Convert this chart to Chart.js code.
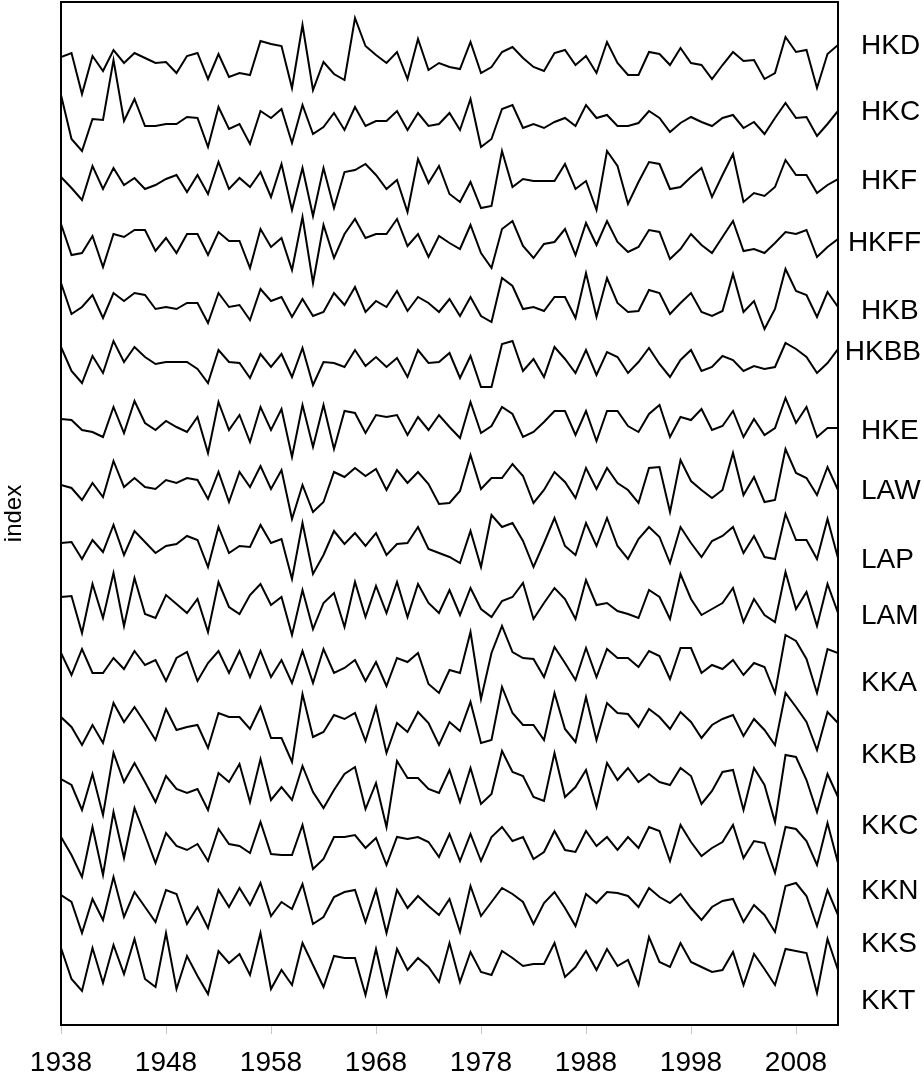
<!DOCTYPE html>
<html>
<head>
<meta charset="utf-8">
<title>index</title>
<script src="https://cdn.jsdelivr.net/npm/chart.js@4/dist/chart.umd.min.js"></script>
<style>
  html, body { margin: 0; padding: 0; background: #fff; }
  #wrap { width: 922px; height: 1079px; }
</style>
</head>
<body>
<div id="wrap"><canvas id="chart" width="922" height="1079"></canvas></div>
<script>
// ---- data (index values, one per year 1938..2012) ----
const startYear = 1938;
const endYear = 2012;
const tickYears = [1938, 1948, 1958, 1968, 1978, 1988, 1998, 2008];
const seriesNames = ['HKD', 'HKC', 'HKF', 'HKFF', 'HKB', 'HKBB', 'HKE', 'LAW',
                     'LAP', 'LAM', 'KKA', 'KKB', 'KKC', 'KKN', 'KKS', 'KKT'];

const HKD = [1.06,1.10,0.69,1.07,0.92,1.13,1.00,1.10,1.05,1.00,1.01,0.90,1.07,1.10,0.84,1.09,0.86,0.90,0.88,1.22,
  1.19,1.17,0.75,1.38,0.73,1.01,0.89,0.83,1.45,1.17,1.08,1.00,1.11,0.84,1.24,0.93,1.00,
  0.96,0.94,1.21,0.90,0.96,1.11,1.16,1.05,0.96,0.92,1.10,1.13,0.98,1.07,0.90,1.21,1.00,0.88,0.88,1.11,
  1.09,0.98,1.15,1.00,0.98,0.84,0.98,1.11,1.02,1.03,0.84,0.90,1.26,1.11,1.13,0.75,1.09,1.18];
const HKC = [1.28,0.84,0.72,1.04,1.03,1.63,1.02,1.24,0.97,0.97,0.99,0.99,1.06,1.05,0.76,1.16,0.94,0.99,0.79,1.12,
  1.05,1.14,0.80,1.18,0.89,0.96,1.10,0.93,1.16,0.97,1.02,1.02,1.12,0.93,1.10,0.97,0.99,
  1.10,0.93,1.24,0.76,0.84,1.14,1.18,0.95,0.99,0.95,1.01,1.05,0.97,1.18,1.05,1.08,0.97,0.97,1.00,1.12,
  1.05,0.91,1.00,1.06,1.01,0.97,1.05,1.08,0.95,1.01,0.89,1.05,1.20,1.05,1.06,0.87,0.99,1.12];
const HKF = [1.06,0.95,0.83,1.17,0.94,1.15,0.98,1.05,0.94,0.98,1.04,1.08,0.91,1.08,0.89,1.21,0.94,1.05,0.96,1.11,
  0.86,1.19,0.73,1.15,0.67,1.15,0.75,1.11,1.13,1.19,1.08,0.94,1.03,0.71,1.24,1.00,1.17,
  0.89,0.81,1.01,0.75,0.77,1.32,0.96,1.04,1.02,1.02,1.02,1.19,0.94,1.02,0.73,1.32,1.17,0.79,1.01,1.21,
  1.19,0.94,0.96,1.06,1.15,0.86,1.08,1.29,0.81,0.90,0.87,0.96,1.23,1.08,1.08,0.90,0.98,1.04];
const HKFF = [1.19,0.88,0.90,1.07,0.76,1.09,1.06,1.13,1.13,0.92,1.05,0.90,1.09,1.09,0.88,1.11,1.02,1.02,0.75,1.14,
  0.96,1.05,0.73,1.26,0.60,1.18,0.85,1.09,1.24,1.05,1.09,1.09,1.24,0.97,1.09,0.86,1.07,
  1.00,0.94,1.18,0.90,0.75,1.14,1.22,0.97,0.85,0.99,1.01,1.14,0.88,1.20,0.98,1.22,1.01,0.91,0.96,1.13,
  1.11,0.84,0.94,1.09,0.98,0.90,1.06,1.22,0.92,0.94,0.90,1.00,1.11,1.09,1.13,0.86,0.96,1.04];
const HKB = [1.20,0.89,0.96,1.08,0.85,1.10,1.02,1.10,1.08,0.94,0.96,0.94,1.00,1.00,0.80,1.10,0.96,0.98,0.83,1.14,
  1.02,1.06,0.86,1.04,0.87,0.91,1.10,0.98,1.16,0.91,1.02,0.96,1.12,0.92,1.06,1.00,0.91,
  1.04,0.87,1.06,0.87,0.81,1.25,1.17,0.94,0.96,0.92,1.06,1.06,0.85,1.30,0.86,1.25,1.00,0.91,0.92,1.13,
  1.10,0.89,1.00,1.10,0.91,0.87,0.92,1.29,0.91,1.02,0.74,0.94,1.34,1.12,1.08,0.86,1.11,0.96];
const HKBB = [1.16,0.92,0.80,1.07,0.90,1.22,1.01,1.16,1.06,0.99,1.01,1.01,1.01,0.94,0.80,1.13,1.01,1.00,0.85,1.09,
  0.96,1.09,0.86,1.15,0.78,1.01,1.00,0.96,1.13,0.97,1.06,0.96,1.05,0.86,1.13,1.00,1.01,
  1.10,0.85,1.07,0.76,0.76,1.19,1.22,0.92,1.04,0.86,1.16,1.04,0.90,1.13,0.88,1.11,1.06,0.90,1.01,1.15,
  0.99,0.86,1.03,1.13,0.92,0.96,1.07,1.03,0.92,0.97,0.94,0.96,1.20,1.14,1.06,0.90,1.00,1.14];
const HKE = [1.04,1.03,0.93,0.91,0.86,1.16,0.90,1.22,1.00,0.93,1.02,0.96,0.91,1.06,0.70,1.21,0.93,1.08,0.81,1.16,
  0.93,1.14,0.66,1.18,0.76,1.18,0.74,1.12,1.10,0.90,1.08,1.06,1.08,0.88,1.06,0.93,1.08,
  0.96,0.85,1.21,0.90,0.97,1.16,1.09,0.86,0.91,1.01,1.12,1.12,0.88,1.12,0.82,1.12,1.12,0.97,0.91,1.09,
  1.18,0.86,1.06,1.03,1.14,0.93,0.97,1.12,0.86,1.04,0.88,0.95,1.25,1.00,1.16,0.86,0.95,0.95];
const LAW = [0.98,0.95,0.83,1.00,0.86,1.22,0.96,1.05,0.96,0.94,1.03,1.00,1.05,1.03,0.84,1.11,0.81,1.11,0.96,1.17,
  0.94,1.13,0.64,0.98,0.71,0.81,1.11,1.06,1.15,1.07,1.14,0.93,1.13,1.00,1.11,0.99,0.79,
  0.80,0.92,1.28,0.94,1.05,1.05,1.19,1.07,0.80,0.93,1.11,1.01,0.85,1.15,0.94,1.15,1.00,0.93,0.80,1.15,
  1.16,0.71,1.23,1.02,0.93,0.85,0.93,1.30,0.88,1.06,0.81,0.83,1.34,1.10,1.05,0.88,1.16,0.93];
const LAP = [1.00,1.01,0.84,1.03,0.91,1.18,0.88,1.12,1.01,0.90,0.97,0.99,1.07,1.03,0.76,1.16,0.90,0.97,0.96,1.18,
  1.00,1.04,0.64,1.20,0.69,0.88,1.12,0.99,1.10,0.97,1.10,0.88,0.99,1.00,1.16,0.94,0.90,
  0.86,0.80,1.12,0.76,1.28,1.16,1.20,1.02,0.76,1.00,1.25,0.97,0.88,1.20,0.97,1.25,0.97,0.84,1.04,1.16,
  1.06,0.80,1.16,1.00,0.86,1.02,1.07,1.16,0.90,1.07,0.86,0.84,1.29,1.03,1.03,0.84,1.24,0.85];
const LAM = [1.06,1.07,0.70,1.19,0.85,1.30,0.77,1.25,0.89,0.85,1.08,0.99,0.90,1.04,0.71,1.21,0.96,0.89,1.08,1.19,
  0.98,1.06,0.68,1.13,0.74,1.00,1.10,0.76,1.21,0.86,1.17,0.90,1.21,0.86,1.19,1.00,0.90,
  1.13,0.88,1.15,0.94,0.86,1.02,1.06,1.20,0.84,1.00,1.15,1.04,0.84,1.23,0.98,1.00,0.92,0.89,0.85,1.13,
  1.06,0.84,1.29,1.04,0.88,0.94,1.00,1.15,0.81,1.04,0.88,0.81,1.31,0.94,1.11,0.77,1.19,0.90];
const KKA = [1.10,0.88,1.14,0.90,0.90,1.05,0.94,1.12,0.98,1.03,0.82,1.05,1.11,0.82,1.00,1.12,0.90,1.12,0.86,1.12,
  0.86,1.03,0.80,1.12,0.80,1.14,0.90,0.95,1.03,0.82,1.01,0.77,1.05,1.01,1.10,0.79,0.70,
  0.93,0.90,1.31,0.64,1.10,1.37,1.11,1.05,1.04,0.86,1.16,1.00,0.83,1.15,0.86,1.14,1.05,1.05,0.96,1.12,
  1.07,0.84,1.15,1.15,0.90,0.98,0.94,1.03,0.88,1.00,0.96,0.70,1.28,1.22,1.04,0.70,1.14,1.10];
const KKB = [1.06,0.96,0.78,0.98,0.80,1.20,1.01,1.16,1.00,0.83,1.14,0.93,0.96,0.98,0.75,1.10,1.06,1.06,0.94,1.16,
  0.85,0.85,0.61,1.29,0.86,0.91,1.08,1.04,1.10,0.82,1.16,0.70,1.00,0.91,1.11,1.00,0.78,
  1.01,0.92,1.21,0.80,0.83,1.36,1.10,0.98,0.98,0.83,1.30,0.94,0.81,1.26,0.83,1.20,1.10,1.09,0.96,1.14,
  1.06,0.94,1.11,1.01,0.85,0.98,1.04,1.08,0.87,1.04,0.93,0.78,1.30,1.16,1.01,0.73,1.11,1.00];
const KKC = [1.04,0.98,0.73,1.09,0.68,1.30,1.01,1.20,1.01,0.81,1.07,0.94,0.90,0.94,0.73,1.10,1.01,1.19,0.81,1.24,
  0.83,0.96,0.83,1.17,0.91,0.75,0.93,1.09,1.16,0.74,1.00,0.56,1.22,1.05,1.05,0.94,0.90,
  1.13,0.81,1.15,0.79,0.89,1.32,1.11,1.07,0.86,0.82,1.30,0.86,0.96,1.13,0.76,1.20,1.03,1.15,1.01,1.09,
  1.01,0.98,1.15,1.07,0.79,0.92,1.11,1.13,0.73,1.15,0.98,0.61,1.28,1.26,1.03,0.71,1.09,0.86];
const KKN = [1.06,0.88,0.66,1.16,0.68,1.31,0.85,1.35,1.08,0.80,1.10,0.97,0.93,0.99,0.82,1.14,0.99,0.97,0.90,1.21,
  0.89,0.88,0.88,1.18,0.74,0.84,1.06,1.06,1.08,0.95,1.05,0.78,1.06,1.04,1.06,1.01,0.86,
  1.09,0.82,1.09,0.82,1.06,1.16,1.02,1.06,0.84,0.91,1.12,0.93,0.91,1.12,0.97,1.06,0.93,1.06,0.95,1.16,
  1.12,0.82,1.18,1.01,0.87,0.95,1.01,1.18,0.85,1.02,1.00,0.70,1.16,1.14,1.02,0.78,1.20,0.80];
const KKS = [1.08,1.01,0.70,1.04,0.83,1.26,0.86,1.11,0.96,0.81,1.13,1.09,0.79,0.96,0.75,1.13,0.96,1.15,0.98,1.20,
  0.87,1.01,0.94,1.19,0.79,0.86,1.06,1.11,1.13,0.81,1.13,0.70,1.13,0.95,1.07,0.97,0.88,
  1.04,0.71,1.17,0.87,1.01,1.15,1.09,1.01,0.79,1.00,1.11,0.95,0.77,1.09,1.00,1.11,1.10,1.07,0.96,1.15,
  1.06,1.00,1.09,0.95,0.83,0.96,1.02,1.04,0.81,0.98,0.88,0.71,1.17,1.20,1.07,0.77,1.13,0.88];
const KKT = [1.15,0.84,0.72,1.15,0.80,1.18,0.89,1.24,0.84,0.76,1.30,0.74,1.07,0.87,0.69,1.12,1.00,1.09,0.88,1.30,
  0.74,0.93,0.78,1.20,0.98,0.76,1.07,1.05,1.05,0.68,1.14,0.68,1.14,0.93,1.05,0.96,0.81,
  1.20,0.81,1.11,0.91,0.88,1.12,1.05,0.97,0.99,0.99,1.20,0.86,0.96,1.12,0.93,1.14,0.97,1.03,0.78,1.26,
  1.01,0.96,1.20,1.01,0.96,0.91,0.93,1.11,0.78,1.09,0.94,0.78,1.14,1.12,1.10,0.70,1.24,0.93];

// where each name sits, on that series' own index scale
const labelAt = [1.17, 1.11, 1.02, 1.00, 0.92, 1.11, 0.92, 0.92,
                 0.83, 0.87, 0.80, 0.68, 0.57, 0.52, 0.59, 0.62];

const allSeries = [HKD, HKC, HKF, HKFF, HKB, HKBB, HKE, LAW, LAP, LAM, KKA, KKB, KKC, KKN, KKS, KKT];

// ---- layout ----
const spacing = 0.6;               // vertical shift between stacked series
const FONT = 'Arial, "Liberation Sans", Helvetica, sans-serif';
const nSeries = allSeries.length;
const shift = i => (nSeries - 1 - i) * spacing;

const datasets = allSeries.map((vals, i) => ({
    label: seriesNames[i],
    data: vals.map((v, k) => ({ x: startYear + k, y: v + shift(i) })),
    borderColor: '#000',
    borderWidth: 2,
    pointRadius: 0,
    fill: false,
    tension: 0
}));

// рамка вокруг области графика
const framePlugin = {
    id: 'frame',
    afterDraw(chart) {
        const { ctx, chartArea: a } = chart;
        ctx.save();
        ctx.strokeStyle = '#000';
        ctx.lineWidth = 2;
        ctx.strokeRect(a.left, a.top, a.right - a.left, a.bottom - a.top);
        ctx.restore();
    }
};

// подписи рядов справа
const namesPlugin = {
    id: 'names',
    afterDatasetsDraw(chart) {
        const { ctx, chartArea: a, scales: { y } } = chart;
        ctx.save();
        ctx.font = '28px ' + FONT;
        ctx.fillStyle = '#000';
        ctx.textBaseline = 'middle';
        ctx.textAlign = 'left';
        seriesNames.forEach((name, i) => {
            const w = ctx.measureText(name).width;
            const xPos = Math.min(a.right + 23, chart.width - 1 - w);
            ctx.fillText(name, xPos, y.getPixelForValue(labelAt[i] + shift(i)));
        });
        ctx.restore();
    }
};

new Chart(document.getElementById('chart'), {
    type: 'line',
    data: { datasets },
    options: {
        responsive: false,
        animation: false,
        devicePixelRatio: 1,
        layout: { padding: { top: 2, right: 84, bottom: 0, left: 0 } },
        plugins: { legend: { display: false }, tooltip: { enabled: false } },
        scales: {
            x: {
                type: 'linear',
                min: startYear,
                max: endYear,
                afterBuildTicks: s => { s.ticks = tickYears.map(v => ({ value: v })); },
                afterFit: s => { s.height = 54; },
                grid: { display: true, drawOnChartArea: false, drawTicks: true, tickLength: 9, color: '#c8c8c8', lineWidth: 1 },
                border: { display: false },
                ticks: {
                    color: '#000',
                    font: { family: FONT, size: 28 },
                    padding: 12,
                    maxRotation: 0,
                    autoSkip: false,
                    callback: v => String(v)
                }
            },
            y: {
                min: 1 - 0.62,
                max: 1 + (nSeries - 1) * spacing + 0.61,
                afterFit: s => { s.width = 61; },
                ticks: { display: false },
                grid: { display: false, drawTicks: false },
                border: { display: false },
                title: {
                    display: true,
                    text: 'index',
                    color: '#000',
                    font: { family: FONT, size: 24 },
                    padding: { top: 0, bottom: 32 }
                }
            }
        }
    },
    plugins: [framePlugin, namesPlugin]
});
</script>
</body>
</html>
